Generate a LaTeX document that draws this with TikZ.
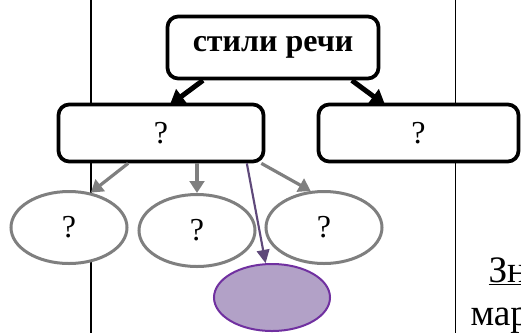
\documentclass[tikz,border=0pt]{standalone}
\usepackage{fontspec}
\setmainfont{Liberation Serif}
\usetikzlibrary{arrows.meta,shapes.geometric}

\definecolor{ovalgray}{RGB}{127,127,127}
\definecolor{lilacfill}{RGB}{178,161,199}
\definecolor{lilacedge}{RGB}{112,48,160}
\definecolor{lilacarrow}{RGB}{95,73,122}

\tikzset{every picture/.style={line width=0.75pt}}
\tikzset{
  qbox/.style={draw, line width=2.8pt, rounded corners=8pt, fill=white,
               minimum height=42.75pt, inner sep=0pt,
               font=\fontsize{24}{28}\selectfont},
  qoval/.style={ellipse, draw=ovalgray, line width=2.25pt, fill=white,
                minimum width=87pt, minimum height=54pt, inner sep=0pt,
                font=\fontsize{24}{28}\selectfont},
  boldarrow/.style={line width=3.75pt, shorten >=-3pt, -{Triangle[length=11pt,width=13pt]}},
  grayarrow/.style={draw=ovalgray, line width=2.4pt, -{Triangle[length=9pt,width=11pt]}},
  lilacline/.style={draw=lilacarrow, line width=1.6pt, -{Triangle[length=10pt,width=9.5pt]}},
  pagetext/.style={anchor=base west, inner sep=0pt, font=\fontsize{28}{32}\selectfont}
}

\begin{document}
\begin{tikzpicture}[x=0.75pt, y=0.75pt, yscale=-1,xscale=1]

    \useasboundingbox (0,0) rectangle (521,333);
    \clip (0,0) rectangle (521,333);

    % Table rules
    \draw [line width=1.2pt] (91,0) -- (91,333);
    \draw [line width=1.2pt] (455.5,0) -- (455.5,333);

    % Boxes
    \node [qbox, minimum width=158.25pt, minimum height=46.5pt, font=\fontsize{24}{28}\selectfont\bfseries]
          (styles) at (273,47.5) {стили речи};
    \node [qbox, minimum width=153.75pt] (leftq)  at (161,133)   {?};
    \node [qbox, minimum width=150pt]    (rightq) at (418.5,133) {?};

    % Ovals
    \node [qoval] (ovala) at (69,227.5)  {?};
    \node [qoval] (ovalb) at (197,230.5) {?};
    \node [qoval] (ovalc) at (324,227.5) {?};
    \node [qoval, draw=lilacedge, fill=lilacfill, line width=1.5pt, minimum height=50.25pt]
          (ovald) at (272,297.5) {};

    % Line styles - boxes
    \draw [boldarrow] ([xshift=28pt]styles.south west)   -- ([xshift=9pt]leftq.north);
    \draw [boldarrow] ([xshift=-21.4pt]styles.south east) -- ([xshift=-27.4pt]rightq.north);

    % Line left box - ovals
    \draw [grayarrow] ([xshift=53.6pt]leftq.south west) -- (ovala.58);
    \draw [grayarrow] ([xshift=27pt]leftq.south)        -- (ovalb.north);
    \draw [grayarrow] ([xshift=-3pt]leftq.south east)   -- (ovalc.110);
    \draw [lilacline] ([xshift=-13.9pt]leftq.south east) -- (ovald);

    % Label: page text
    \node [pagetext] (texta) at (488,282) {\underline{Зн}};
    \node [pagetext] (textb) at (470,325) {мар};

\end{tikzpicture}
\end{document}
